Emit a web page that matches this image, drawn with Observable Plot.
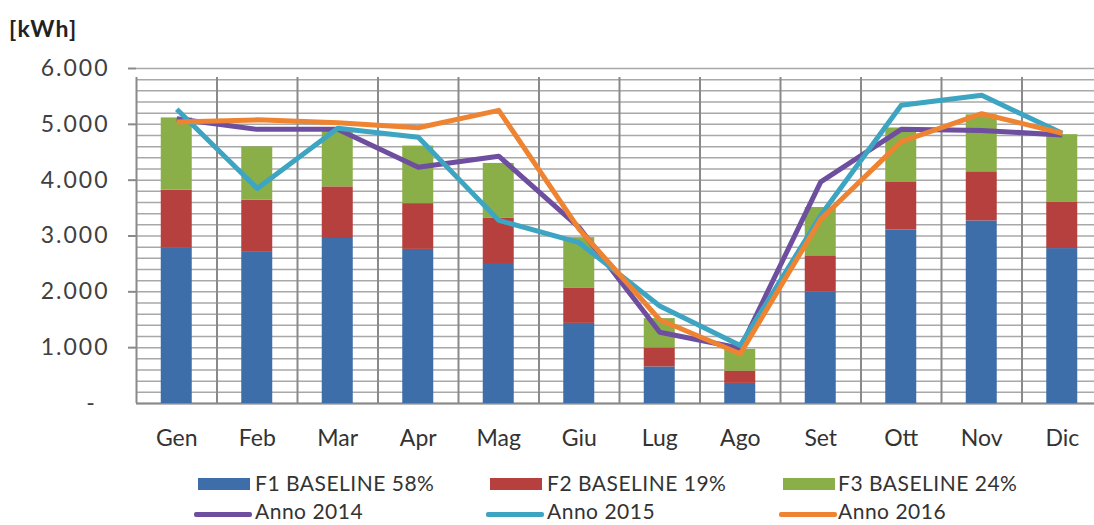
<!DOCTYPE html>
<html>
<head>
<meta charset="utf-8">
<script src="https://cdn.jsdelivr.net/npm/d3@7"></script>
<script src="https://cdn.jsdelivr.net/npm/@observablehq/plot@0.6"></script>
<style>
  html, body { margin: 0; padding: 0; background: #fff; overflow: hidden; }
  body { width: 1094px; height: 525px; font-family: Lato, "Open Sans", sans-serif; color: #333; }
  #title { height: 50px; box-sizing: border-box; padding: 17px 0 0 9px; font-size: 23px; font-weight: bold; line-height: 23px; color: #222; letter-spacing: 1.2px; }
  #legend { position: relative; height: 65px; }
  .item { position: absolute; font-size: 21px; line-height: 21px; color: #333; white-space: nowrap; letter-spacing: 0.5px; }
  .sw { position: absolute; }
  .ylab text { letter-spacing: 2px; }
</style>
</head>
<body>
<div id="title">[kWh]</div>
<div id="chart"></div>
<div id="legend"></div>
<script>
// ---- data ----
const months = ["Gen","Feb","Mar","Apr","Mag","Giu","Lug","Ago","Set","Ott","Nov","Dic"];
const barSeries = ["F1 BASELINE 58%","F2 BASELINE 19%","F3 BASELINE 24%"];
const lineSeries = ["Anno 2014","Anno 2015","Anno 2016"];
const f1 = [2780, 2720, 2955, 2760, 2490, 1435, 655, 360, 2000, 3105, 3270, 2775];
const f2 = [1040, 920, 925, 820, 825, 635, 340, 220, 645, 865, 880, 835];
const f3 = [1295, 955, 1010, 1030, 985, 900, 525, 390, 865, 965, 1020, 1205];
const anno2014 = [5100, 4910, 4910, 4230, 4430, 3150, 1275, 990, 3970, 4910, 4890, 4810];
const anno2015 = [5270, 3850, 4930, 4770, 3280, 2880, 1745, 1040, 3370, 5340, 5520, 4840];
const anno2016 = [5040, 5080, 5030, 4940, 5250, 3120, 1500, 890, 3300, 4690, 5190, 4840];
const yTicks = [1000, 2000, 3000, 4000, 5000, 6000];
const colors = ["#3E6EA9", "#B5403E", "#8AAE48", "#6E4E9E", "#3DA5C2", "#EE8432"];

// ---- tables ----
const barArrays = [f1, f2, f3];
const bars = [];
months.forEach((m, i) => {
  let base = 0;
  barArrays.forEach((arr, s) => {
    bars.push({month: m, i, series: barSeries[s], y1: base, y2: base + arr[i]});
    base += arr[i];
  });
});
const lineArrays = [anno2014, anno2015, anno2016];
const lines = [];
lineArrays.forEach((arr, s) => arr.forEach((v, i) => lines.push({month: months[i], i, series: lineSeries[s], value: v})));

const fmt = d => d3.format(",")(d).replace(/,/g, ".");

const chart = Plot.plot({
  width: 1094,
  height: 410,
  marginTop: 18,
  marginBottom: 57,
  marginLeft: 136,
  marginRight: 0,
  style: {fontFamily: "Lato, 'Open Sans', sans-serif", overflow: "visible", background: "#fff"},
  x: {type: "linear", domain: [0, 12], range: [136, 1102], axis: null},
  y: {domain: [0, 6000], axis: null},
  color: {domain: [...barSeries, ...lineSeries], range: colors},
  marks: [
    Plot.ruleY(d3.range(0, 6001, 200), {stroke: "#a8a8a8", strokeWidth: 1.5}),
    Plot.ruleX(d3.range(0, 12), {x: d => d, y1: 0, y2: 6000, insetBottom: -9, stroke: "#8a8a8a", strokeWidth: 2}),
    Plot.ruleY([0], {stroke: "#8a8a8a", strokeWidth: 2}),
    Plot.rect(bars, {x1: d => d.i + 0.3075, x2: d => d.i + 0.6925, y1: "y1", y2: "y2", fill: "series"}),
    Plot.line(lines, {x: d => d.i + 0.5, y: "value", z: "series", stroke: "series", strokeWidth: 5, strokeLinejoin: "round", strokeLinecap: "butt"}),
    Plot.axisY({ticks: yTicks, tickFormat: fmt, tickSize: 8, tickPadding: 19, fontSize: 23, fill: "#404040", stroke: "#8a8a8a", strokeWidth: 2, className: "ylab"}),
    Plot.text([0], {x: 0, y: d => d, text: () => "-", dx: -46, fontSize: 23, fill: "#404040"}),
    Plot.axisX({ticks: d3.range(12).map(i => i + 0.5), tickFormat: d => months[Math.floor(d)], tickSize: 0, tickPadding: 26, fontSize: 23, fill: "#333"})
  ]
});
document.getElementById("chart").appendChild(chart);

// ---- legend ----
const legend = document.getElementById("legend");
const colX = [198, 490, 783];
const textX = [255, 547, 838];
barSeries.forEach((name, s) => {
  const sw = document.createElement("div");
  sw.className = "sw";
  Object.assign(sw.style, {left: colX[s] + "px", top: "18px", width: "52px", height: "12px", background: colors[s]});
  legend.appendChild(sw);
  const t = document.createElement("div");
  t.className = "item";
  t.textContent = name;
  Object.assign(t.style, {left: textX[s] + "px", top: "12px"});
  legend.appendChild(t);
});
lineSeries.forEach((name, s) => {
  const sw = document.createElement("div");
  sw.className = "sw";
  Object.assign(sw.style, {left: (colX[s] - 4) + "px", top: "52px", width: "58px", height: "5px", borderRadius: "2px", background: colors[3 + s]});
  legend.appendChild(sw);
  const t = document.createElement("div");
  t.className = "item";
  t.textContent = name;
  Object.assign(t.style, {left: textX[s] + "px", top: "40px"});
  legend.appendChild(t);
});
</script>
</body>
</html>
